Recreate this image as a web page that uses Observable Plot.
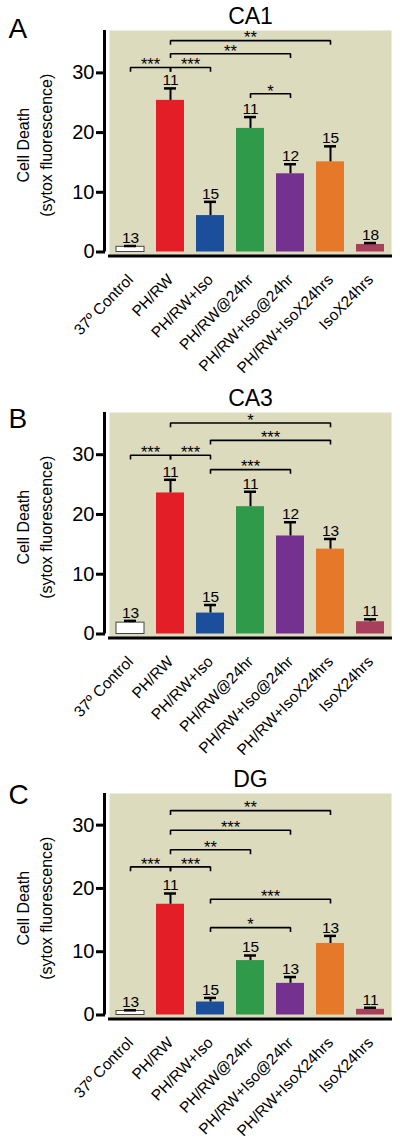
<!DOCTYPE html>
<html><head><meta charset="utf-8">
<script src="https://cdn.jsdelivr.net/npm/d3@7"></script>
<script src="https://cdn.jsdelivr.net/npm/@observablehq/plot@0.6"></script>
<style>
body{margin:0;background:#fff;}
#chart{width:400px;height:1139px;overflow:hidden;}
#chart svg{display:block;}
</style></head><body><div id="chart"></div>
<script>
// ---- data ----
const categories = ["37º Control","PH/RW","PH/RW+Iso","PH/RW@24hr","PH/RW+Iso@24hr","PH/RW+IsoX24hrs","IsoX24hrs"];
const barColors = ["#ffffff","#e31e26","#1b4f9c","#2e9a4a","#74318f","#e6782a","#a83f5c"];
const yTicks = [0, 10, 20, 30];

const ca1Means  = [0.87, 25.4, 6.1, 20.7, 13.1, 15.1, 1.26];
const ca1Errors = [0.13, 2.0, 2.3, 1.9, 1.6, 2.6, 0.24];
const ca1N      = [13, 11, 15, 11, 12, 15, 18];
const ca1Sig    = [[0,1,"***",30.9],[1,2,"***",30.9],[1,4,"**",33.2],[1,5,"**",35.4],[3,4,"*",26.5]];

const ca3Means  = [1.9, 23.6, 3.5, 21.3, 16.4, 14.2, 2.05];
const ca3Errors = [0.3, 2.2, 1.35, 2.5, 2.3, 1.7, 0.4];
const ca3N      = [13, 11, 15, 11, 12, 13, 11];
const ca3Sig    = [[0,1,"***",29.9],[1,2,"***",29.9],[1,5,"*",35.3],[2,5,"***",32.4],[2,4,"***",27.5]];

const dgMeans   = [0.63, 17.5, 2.05, 8.6, 5.0, 11.3, 0.9];
const dgErrors  = [0.11, 1.7, 0.65, 0.8, 1.0, 1.2, 0.25];
const dgN       = [13, 11, 15, 15, 13, 13, 11];
const dgSig     = [[0,1,"***",23.4],[1,2,"***",23.4],[1,3,"**",26.1],[1,4,"***",29.2],[1,5,"**",32.3],[2,5,"***",18.3],[2,4,"*",13.8]];

// ---- style ----
const bg = "#dcdbbe";
const font = "'Liberation Sans', Arial, Helvetica, sans-serif";
const xDomain = [-0.5, categories.length - 0.5];
const zeroPx = 251.5;

function panel(cfg) {
  const rows = categories.map((c, i) => ({i, cat: c, mean: cfg.means[i], top: cfg.means[i] + cfg.errors[i], n: cfg.n[i], color: barColors[i]}));
  const sig = cfg.sig.map(([a, b, label, y]) => ({a, b, label, y}));
  const drop = 0.7;
  const pts = sig.flatMap((s, k) => [
    {k, x: s.a, y: s.y - drop}, {k, x: s.a, y: s.y}, {k, x: s.b, y: s.y}, {k, x: s.b, y: s.y - drop}
  ]);
  return Plot.plot({
    width: 400, height: cfg.height,
    marginTop: 30, marginBottom: cfg.height - zeroPx, marginLeft: 110, marginRight: 10,
    x: {domain: xDomain},
    y: {domain: [0, cfg.ymax]},
    color: {type: "identity"},
    style: {fontFamily: font, color: "#000", background: "#fff", overflow: "visible"},
    marks: [
      Plot.frame({fill: bg, stroke: "none", insetBottom: -4, insetLeft: -1, insetRight: -1}),
      Plot.rect(rows, {x1: d => d.i - 0.35, x2: d => d.i + 0.35, y1: 0, y2: "mean", fill: "color"}),
      Plot.rect(rows.filter(d => d.i === 0), {x1: d => d.i - 0.35, x2: d => d.i + 0.35, y1: 0, y2: "mean", fill: "none", stroke: "#444", strokeWidth: 1}),
      Plot.ruleX(rows, {x: "i", y1: "mean", y2: "top", stroke: "#000", strokeWidth: 2}),
      Plot.ruleY(rows, {x1: d => d.i - 0.15, x2: d => d.i + 0.15, y: "top", stroke: "#000", strokeWidth: 2.5}),
      Plot.text(rows, {x: "i", y: "top", text: "n", dy: -8, fontSize: 15.5}),
      Plot.line(pts, {x: "x", y: "y", z: "k", stroke: "#000", strokeWidth: 1.6, strokeLinejoin: "miter", strokeLinecap: "butt", curve: "linear"}),
      Plot.text(sig, {x: d => (d.a + d.b) / 2, y: "y", text: "label", fontSize: 16.5, dy: -2.5}),
      Plot.ruleX([xDomain[0]], {y1: 0, y2: cfg.ymax, dx: -6, stroke: "#000", strokeWidth: 3}),
      Plot.ruleY([0], {dy: 4, stroke: "#000", strokeWidth: 3, insetLeft: -2, insetRight: -2}),
      Plot.axisY({ticks: yTicks, tickSize: 9, tickPadding: 2, dx: -5, fontSize: 20, strokeWidth: 3, label: null}),
      Plot.axisX({ticks: d3.range(categories.length), tickFormat: i => categories[i], tickRotate: -46, tickSize: 0, tickPadding: 25, fontSize: 15.5, label: null}),
      Plot.text([cfg.title], {frameAnchor: "top", dy: -14, fontSize: 23, textAnchor: "middle", lineAnchor: "middle"}),
      Plot.text([cfg.letter], {frameAnchor: "top-left", dx: -102, dy: cfg.letterDy, textAnchor: "start", lineAnchor: "middle", fontSize: 28}),
      Plot.text(["Cell Death\n(sytox fluorescence)"], {frameAnchor: "left", dx: -77, dy: 4, rotate: -90, textAnchor: "middle", lineAnchor: "middle", fontSize: 16, lineHeight: 1.44})
    ]
  });
}

const chart = document.getElementById("chart");
chart.append(panel({title: "CA1", letter: "A", letterDy: -1, height: 382, ymax: 37.1, means: ca1Means, errors: ca1Errors, n: ca1N, sig: ca1Sig}));
chart.append(panel({title: "CA3", letter: "B", letterDy: 7, height: 381, ymax: 37.06, means: ca3Means, errors: ca3Errors, n: ca3N, sig: ca3Sig}));
chart.append(panel({title: "DG", letter: "C", letterDy: 2, height: 376, ymax: 35.0, means: dgMeans, errors: dgErrors, n: dgN, sig: dgSig}));
</script></body></html>
